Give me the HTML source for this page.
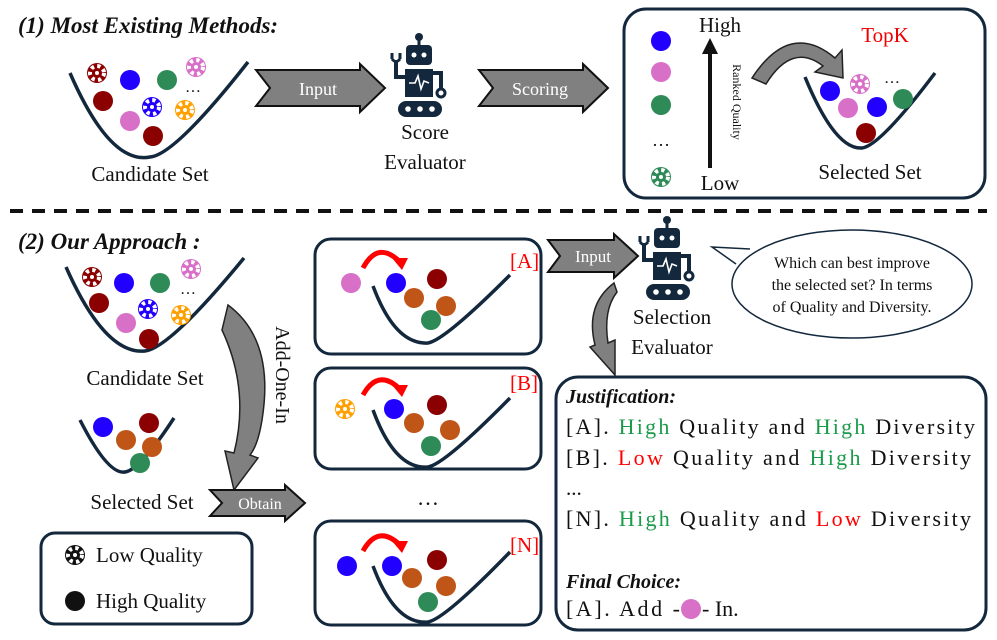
<!DOCTYPE html>
<html><head><meta charset="utf-8"><style>
html,body{margin:0;padding:0;background:#fff}
svg{display:block}
text{font-family:"Liberation Serif",serif;fill:#111}
.t{font-size:21px}
.b{font-weight:bold;font-style:italic}
</style></head><body>
<svg width="997" height="640" viewBox="0 0 997 640" xmlns="http://www.w3.org/2000/svg">
<defs>
<g id="robot">
  <circle cx="27" cy="4" r="4" fill="#13283c"/>
  <rect x="25.5" y="4" width="3" height="9" fill="#13283c"/>
  <rect x="14" y="12" width="26" height="20" rx="4" fill="#13283c"/>
  <circle cx="22" cy="22" r="2.5" fill="#fff"/><circle cx="32" cy="22" r="2.5" fill="#fff"/>
  <rect x="13" y="36" width="28" height="28" fill="#13283c"/>
  <polyline points="17,50 23,50 26,43 29,56 32,48 37,50" fill="none" stroke="#fff" stroke-width="1.6"/>
  <path d="M13,44 L4,44 L4,28" fill="none" stroke="#13283c" stroke-width="4"/>
  <path d="M0,26 L0,20 M8,26 L8,20 M0,26 Q4,31 8,26" fill="none" stroke="#13283c" stroke-width="3"/>
  <path d="M41,40 L49,40 L49,56" fill="none" stroke="#13283c" stroke-width="4"/>
  <circle cx="49" cy="60" r="4" fill="none" stroke="#13283c" stroke-width="3"/>
  <rect x="6" y="68" width="44" height="16" rx="8" fill="#13283c"/>
  <circle cx="16" cy="76" r="2.8" fill="#fff"/><circle cx="28" cy="76" r="2.8" fill="#fff"/><circle cx="40" cy="76" r="2.8" fill="#fff"/>
</g>
<g id="chk">
  <circle r="7" fill="none" stroke="#fff" stroke-width="4" stroke-dasharray="3.3 3.3"/>
  <circle r="2" fill="#fff"/>
</g>
</defs>
<g stroke="none">
<!-- section 1 -->
<text x="18" y="33" class="b" font-size="23">(1) Most Existing Methods:</text>
<path d="M70,73 Q110,165 150,157 Q175,155 248,62" fill="none" stroke="#13283c" stroke-width="3.5"/>
<g>
<circle cx="97" cy="73" r="10" fill="#8b0000"/><use href="#chk" x="97" y="73"/>
<circle cx="130" cy="80" r="10" fill="#2200ff"/>
<circle cx="167" cy="80" r="10" fill="#2e8b57"/>
<circle cx="196" cy="67" r="10" fill="#d870c8"/><use href="#chk" x="196" y="67"/>
<text x="185" y="92" font-size="16">…</text>
<circle cx="103" cy="101" r="10" fill="#8b0000"/>
<circle cx="152" cy="107" r="10" fill="#2200ff"/><use href="#chk" x="152" y="107"/>
<circle cx="185" cy="110" r="10" fill="#ffa000"/><use href="#chk" x="185" y="110"/>
<circle cx="130" cy="121" r="10" fill="#d870c8"/>
<circle cx="153" cy="136" r="10" fill="#8b0000"/>
</g>
<text x="150" y="181" class="t" text-anchor="middle">Candidate Set</text>
<polygon points="256,70 360,70 360,64 385,88 360,112 360,106 256,106 270,88" fill="#808080" stroke="#111" stroke-width="2"/>
<text x="318" y="95" font-size="18" text-anchor="middle" style="fill:#fff">Input</text>
<use href="#robot" x="392" y="33"/>
<text x="425" y="139" class="t" text-anchor="middle">Score</text>
<text x="425" y="169" class="t" text-anchor="middle">Evaluator</text>
<polygon points="479,70 583,70 583,64 608,88 583,112 583,106 479,106 493,88" fill="#808080" stroke="#111" stroke-width="2"/>
<text x="540" y="95" font-size="18" text-anchor="middle" style="fill:#fff">Scoring</text>
<rect x="624" y="9" width="361" height="189" rx="22" fill="none" stroke="#13283c" stroke-width="3"/>
<circle cx="661" cy="41" r="10" fill="#2200ff"/>
<circle cx="661" cy="72" r="10" fill="#d870c8"/>
<circle cx="661" cy="105" r="10" fill="#2e8b57"/>
<text x="652" y="146" font-size="18">…</text>
<circle cx="661" cy="177" r="10" fill="#2e8b57"/><use href="#chk" x="661" y="177"/>
<text x="720" y="32" class="t" text-anchor="middle">High</text>
<text x="720" y="190" class="t" text-anchor="middle">Low</text>
<line x1="710" y1="168" x2="710" y2="52" stroke="#111" stroke-width="4"/>
<polygon points="702,54 718,54 710,38" fill="#111"/>
<text transform="translate(733,102) rotate(90)" font-size="12" text-anchor="middle">Ranked Quality</text>
<path d="M752,78 Q790,20 835,58 L842,50 L843,78 L815,72 L823,66 Q792,42 766,84 Z" fill="#808080" stroke="#222" stroke-width="1.5"/>
<text x="885" y="42" font-size="21" text-anchor="middle" style="fill:#e00">TopK</text>
<path d="M805,77 Q835,150 862,148 Q880,146 935,73" fill="none" stroke="#13283c" stroke-width="3.5"/>
<circle cx="830" cy="91" r="10" fill="#2200ff"/>
<circle cx="860" cy="84" r="10" fill="#d870c8"/><use href="#chk" x="860" y="84"/>
<text x="884" y="83" font-size="16">…</text>
<circle cx="848" cy="108" r="10" fill="#d870c8"/>
<circle cx="877" cy="107" r="10" fill="#2200ff"/>
<circle cx="903" cy="99" r="10" fill="#2e8b57"/>
<circle cx="866" cy="133" r="10" fill="#8b0000"/>
<text x="870" y="179" class="t" text-anchor="middle">Selected Set</text>
<line x1="10" y1="211" x2="987" y2="211" stroke="#111" stroke-width="4" stroke-dasharray="13 9"/>
<!-- section 2 -->
<text x="18" y="249" class="b" font-size="23">(2) Our Approach :</text>
<path d="M66,267 Q105,355 145,351 Q170,348 244,258" fill="none" stroke="#13283c" stroke-width="3.5"/>
<circle cx="92" cy="277" r="10" fill="#8b0000"/><use href="#chk" x="92" y="277"/>
<circle cx="124" cy="283" r="10" fill="#2200ff"/>
<circle cx="160" cy="283" r="10" fill="#2e8b57"/>
<circle cx="191" cy="269" r="10" fill="#d870c8"/><use href="#chk" x="191" y="269"/>
<text x="180" y="294" font-size="16">…</text>
<circle cx="99" cy="303" r="10" fill="#8b0000"/>
<circle cx="148" cy="309" r="10" fill="#2200ff"/><use href="#chk" x="148" y="309"/>
<circle cx="181" cy="315" r="10" fill="#ffa000"/><use href="#chk" x="181" y="315"/>
<circle cx="126" cy="323" r="10" fill="#d870c8"/>
<circle cx="149" cy="339" r="10" fill="#8b0000"/>
<text x="145" y="385" class="t" text-anchor="middle">Candidate Set</text>
<path d="M80,420 Q108,475 125,472 Q140,470 174,418" fill="none" stroke="#13283c" stroke-width="3.5"/>
<circle cx="103" cy="427" r="10" fill="#2200ff"/>
<circle cx="149" cy="423" r="10" fill="#8b0000"/>
<circle cx="126" cy="440" r="10" fill="#c05518"/>
<circle cx="152" cy="447" r="10" fill="#c05518"/>
<circle cx="140" cy="463" r="10" fill="#2e8b57"/>
<text x="142" y="509" class="t" text-anchor="middle">Selected Set</text>
<path d="M228,305 Q275,340 262,420 Q258,445 250,455 L258,458 L234,490 L225,451 L234,453 Q250,390 222,330 Z" fill="#808080" stroke="#222" stroke-width="1.5"/>
<text transform="translate(276,375) rotate(90)" font-size="20" text-anchor="middle">Add-One-In</text>
<polygon points="210,490 285,490 285,485 305,503 285,521 285,516 210,516 222,503" fill="#808080" stroke="#111" stroke-width="2"/>
<text x="260" y="509" font-size="16" text-anchor="middle" style="fill:#fff">Obtain</text>
<rect x="41" y="533" width="211" height="91" rx="14" fill="none" stroke="#13283c" stroke-width="3"/>
<circle cx="75" cy="555" r="10" fill="#111"/><use href="#chk" x="75" y="555"/>
<text x="96" y="562" class="t">Low Quality</text>
<circle cx="75" cy="601" r="10" fill="#111"/>
<text x="96" y="608" class="t">High Quality</text>
<!-- candidate boxes -->
<g>
<rect x="315" y="239" width="226" height="115" rx="16" fill="none" stroke="#13283c" stroke-width="3"/>
<path d="M373,286 Q395,345 428,343 Q445,340 510,275" fill="none" stroke="#13283c" stroke-width="3.5"/>
<circle cx="351" cy="283" r="10" fill="#d870c8"/>
<circle cx="396" cy="283" r="10" fill="#2200ff"/><circle cx="437" cy="279" r="10" fill="#8b0000"/>
<circle cx="414" cy="298" r="10" fill="#c05518"/><circle cx="446" cy="306" r="10" fill="#c05518"/><circle cx="431" cy="320" r="10" fill="#2e8b57"/>
<path d="M363,268 Q378,240 400,262" fill="none" stroke="#f00" stroke-width="5"/><polygon points="392,258 408,258 402,270" fill="#f00"/>
<text x="510" y="268" font-size="21" style="fill:#f00">[A]</text>
</g>
<g>
<rect x="315" y="368" width="226" height="101" rx="16" fill="none" stroke="#13283c" stroke-width="3"/>
<path d="M373,410 Q395,470 428,467 Q445,464 510,398" fill="none" stroke="#13283c" stroke-width="3.5"/>
<circle cx="345" cy="409" r="10" fill="#ffa000"/><use href="#chk" x="345" y="409"/>
<circle cx="394" cy="409" r="10" fill="#2200ff"/><circle cx="437" cy="405" r="10" fill="#8b0000"/>
<circle cx="414" cy="423" r="10" fill="#c05518"/><circle cx="450" cy="430" r="10" fill="#c05518"/><circle cx="431" cy="446" r="10" fill="#2e8b57"/>
<path d="M363,395 Q378,368 400,389" fill="none" stroke="#f00" stroke-width="5"/><polygon points="392,385 408,385 402,397" fill="#f00"/>
<text x="510" y="390" font-size="21" style="fill:#f00">[B]</text>
</g>
<text x="428" y="505" font-size="22" text-anchor="middle">…</text>
<g>
<rect x="315" y="521" width="226" height="104" rx="16" fill="none" stroke="#13283c" stroke-width="3"/>
<path d="M373,566 Q395,625 428,622 Q445,619 510,552" fill="none" stroke="#13283c" stroke-width="3.5"/>
<circle cx="347" cy="566" r="10" fill="#2200ff"/>
<circle cx="392" cy="566" r="10" fill="#2200ff"/><circle cx="437" cy="560" r="10" fill="#8b0000"/>
<circle cx="412" cy="578" r="10" fill="#c05518"/><circle cx="446" cy="586" r="10" fill="#c05518"/><circle cx="428" cy="602" r="10" fill="#2e8b57"/>
<path d="M363,551 Q378,524 400,545" fill="none" stroke="#f00" stroke-width="5"/><polygon points="392,541 408,541 402,553" fill="#f00"/>
<text x="510" y="552" font-size="21" style="fill:#f00">[N]</text>
</g>
<polygon points="548,240 614,240 614,234 638,256 614,278 614,272 548,272 560,256" fill="#808080" stroke="#111" stroke-width="2"/>
<text x="593" y="262" font-size="17" text-anchor="middle" style="fill:#fff">Input</text>
<use href="#robot" x="640" y="216"/>
<text x="672" y="324" class="t" text-anchor="middle">Selection</text>
<text x="672" y="354" class="t" text-anchor="middle">Evaluator</text>
<ellipse cx="852" cy="284" rx="120" ry="54" fill="#fff" stroke="#13283c" stroke-width="1.5"/>
<path d="M750,249 L712,247 L736,264" fill="#fff" stroke="#13283c" stroke-width="1.5"/>
<text x="852" y="268" font-size="16" text-anchor="middle">Which can best improve</text>
<text x="852" y="290" font-size="16" text-anchor="middle">the selected set? In terms</text>
<text x="852" y="312" font-size="16" text-anchor="middle">of Quality and Diversity.</text>
<path d="M614,283 Q585,305 595,345 L590,347 L615,375 L615,340 L608,343 Q603,310 617,292 Z" fill="#808080" stroke="#222" stroke-width="1.5"/>
<rect x="556" y="377" width="430" height="253" rx="22" fill="#fff" stroke="#13283c" stroke-width="3"/>
<text x="566" y="403" class="b" font-size="20">Justification:</text>
<text x="566" y="434" font-size="22" textLength="409" lengthAdjust="spacing">[A]. <tspan style="fill:#1a9a4a">High</tspan> Quality and <tspan style="fill:#1a9a4a">High</tspan> Diversity</text>
<text x="566" y="465" font-size="22" textLength="405" lengthAdjust="spacing">[B].  <tspan style="fill:#f00">Low</tspan> Quality and <tspan style="fill:#1a9a4a">High</tspan> Diversity</text>
<text x="566" y="495" class="t">...</text>
<text x="566" y="526" font-size="22" textLength="405" lengthAdjust="spacing">[N]. <tspan style="fill:#1a9a4a">High</tspan> Quality and <tspan style="fill:#f00">Low</tspan> Diversity</text>
<text x="566" y="588" class="b" font-size="20">Final Choice:</text>
<text x="566" y="616" font-size="22" textLength="114" lengthAdjust="spacing">[A]. Add -</text>
<circle cx="691" cy="609" r="10" fill="#d870c8"/>
<text x="702" y="616" font-size="22">- In.</text>
</g>
</svg>
</body></html>
